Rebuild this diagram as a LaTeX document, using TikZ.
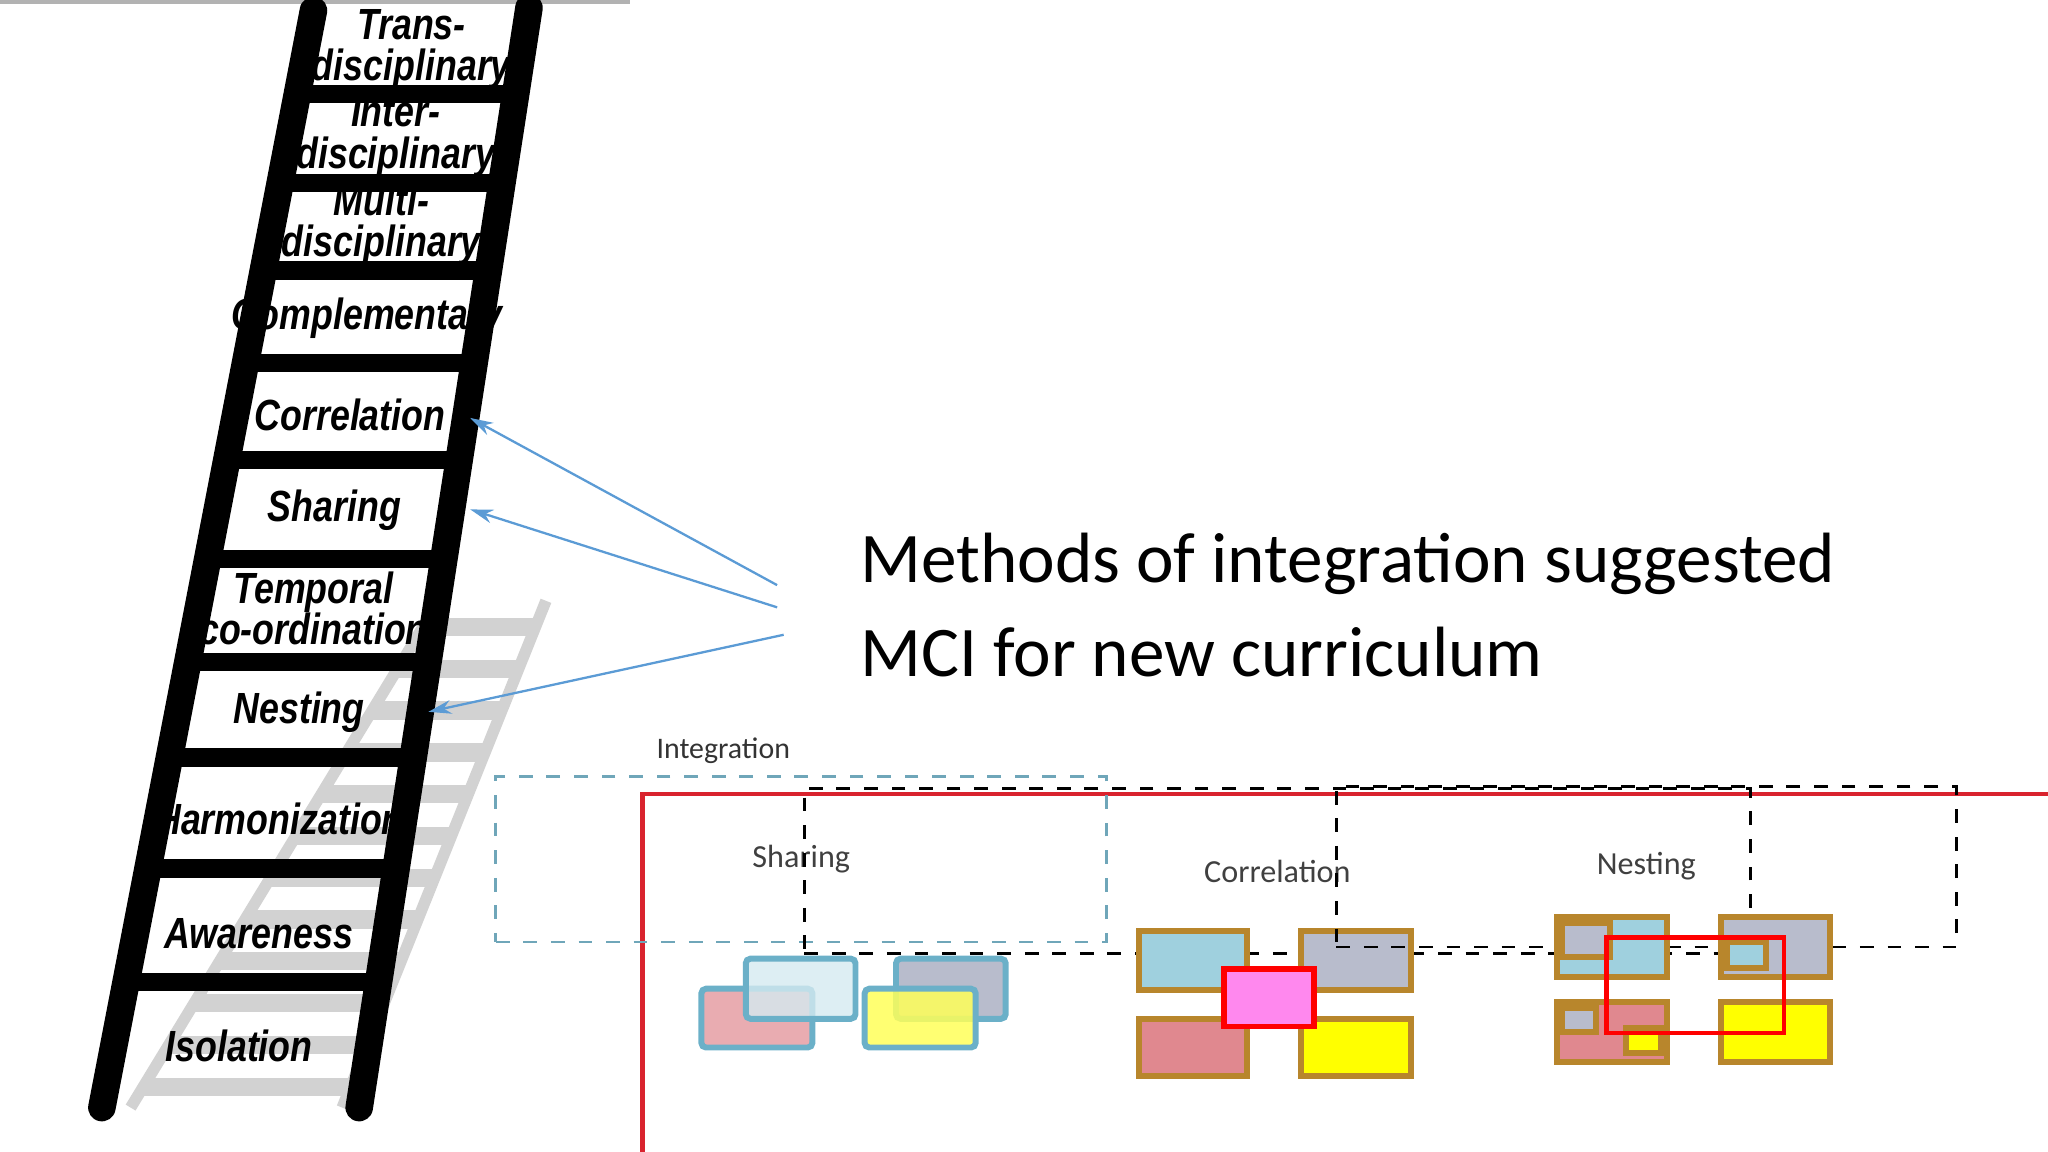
\documentclass[tikz,border=0pt]{standalone}
\usepackage{fontspec}
\setmainfont{Carlito}
\newfontfamily\ladfont{Liberation Sans}
\usetikzlibrary{arrows.meta}
\definecolor{arrblue}{HTML}{5B9BD5}
\definecolor{boxred}{HTML}{D9232E}
\definecolor{brd}{HTML}{B8862C}
\definecolor{shb}{HTML}{6BB0C8}
\definecolor{lb}{HTML}{9FD0DE}
\definecolor{gr}{HTML}{B8BCCC}
\definecolor{pk}{HTML}{E0888F}
\definecolor{yl}{HTML}{FFFF00}
\begin{document}
\begin{tikzpicture}[x=0.01cm,y=-0.01cm,
  rail/.style={line width=9\pgflinewidth*0+2.6pt,line cap=round},
  rung/.style={line width=2.8pt},
  lab/.style={font=\ladfont\bfseries\itshape\fontsize{9.5}{9}\selectfont,align=center,inner sep=0pt,xscale=0.82},
  arr/.style={arrblue,line width=0.5pt,-{Stealth[length=5pt,width=3pt]}},
  sq/.style={line width=1.3pt,draw=brd},
  ssq/.style={line width=1.3pt,draw=shb,rounded corners=1pt},
  dbox/.style={draw,dashed,line width=0.6pt,font=\fontsize{7}{8}\selectfont,inner sep=0pt,text=black!75}]
\useasboundingbox (0,0) rectangle (1568,882);
\draw[gray!60,line width=1pt] (0,1) -- (482,1);
% shadow ladder
\begin{scope}[draw=gray!35]
\draw[line width=2.5pt] (418,460) -- (262,848);
\draw[line width=2.5pt] (330,470) -- (100,848);
\foreach \y in {480,512,544,576,608,640,672,704,736,768,800,832}
  \draw[line width=4pt] ({330-0.6085*(\y-470)},\y) -- ({418-0.402*(\y-460)},\y);
\end{scope}
% main ladder
\draw[line width=6pt,line cap=round] (240,8) -- (78,848);
\draw[line width=6pt,line cap=round] (405,6) -- (275,848);
\foreach \y in {72,140,207,278,352,428,507,580,665,752}
  \draw[line width=4pt] ({240-0.19286*(\y-8)},\y) -- ({405-0.15439*(\y-6)},\y);
\node[lab] (l1) at (315,38) {Trans-\\disciplinary};
\node[lab] (l2) at (303,105) {Inter-\\disciplinary};
\node[lab] (l3) at (292,172) {Multi-\\disciplinary};
\node[lab] (l4) at (281,244) {Complementary};
\node[lab] (l5) at (268,318) {Correlation};
\node[lab] (l6) at (256,391) {Sharing};
\node[lab] (l7) at (240,466) {Temporal\\co-ordination};
\node[lab] (l8) at (229,545) {Nesting};
\node[lab] (l9) at (214,627) {Harmonization};
\node[lab] (l10) at (198,715) {Awareness};
\node[lab] (l11) at (183,801) {Isolation};
% arrows
\coordinate (s1) at (595,448); \coordinate (t1) at (360,320);
\coordinate (s2) at (595,465); \coordinate (t2) at (360,390);
\coordinate (s3) at (600,486); \coordinate (t3) at (328,545);
\draw[arr] (s1) -- (t1);
\draw[arr] (s2) -- (t2);
\draw[arr] (s3) -- (t3);
% title
\node[anchor=west,align=left,inner sep=0pt,font=\fontsize{15.5}{20.5}\selectfont] (title) at (658,463) {Methods of integration suggested\\MCI for new curriculum};
\node[anchor=west,inner sep=0pt,font=\fontsize{6.5}{8}\selectfont,text=black!80] (integ) at (502,575) {Integration};
\node[draw=boxred,line width=1pt,minimum width=1005,minimum height=271,anchor=north west,inner sep=0pt] (frame) at (490,606) {};
% sharing
\node[dbox,draw=shb!80!gray,minimum width=133,minimum height=36] (shl) at (613.5,658) {Sharing};
\draw[ssq,fill=pk!70!white] (537,757) rectangle (622,802);
\draw[ssq,fill=lb!45!white,fill opacity=0.8] (571,734) rectangle (655,780);
\draw[ssq,fill=gr] (686,734) rectangle (770,780);
\draw[ssq,fill=yl!65!white,fill opacity=0.85] (662,757) rectangle (747,802);
% correlation
\node[dbox,minimum width=206,minimum height=36] (col) at (978,667) {Correlation};
\draw[sq,fill=lb] (872,713) rectangle (955,758);
\draw[sq,fill=gr] (996,713) rectangle (1080,758);
\draw[sq,fill=pk] (872,780) rectangle (955,824);
\draw[sq,fill=yl] (996,780) rectangle (1080,824);
\draw[line width=1.2pt,draw=red,fill={rgb,255:red,255;green,136;blue,238}] (937,742) rectangle (1006,786);
% nesting
\node[dbox,minimum width=135,minimum height=35] (nel) at (1260.5,663.5) {Nesting};
\draw[sq,fill=lb] (1192,702) rectangle (1276,748);
\draw[sq,fill=gr] (1318,702) rectangle (1401,748);
\draw[sq,fill=pk] (1192,767) rectangle (1276,813);
\draw[sq,fill=yl] (1318,767) rectangle (1401,813);
\draw[sq,fill=gr] (1196,707) rectangle (1233,733);
\draw[sq,fill=lb] (1322,721) rectangle (1352,741);
\draw[sq,fill=gr] (1196,772) rectangle (1222,790);
\draw[sq,fill=yl] (1245,787) rectangle (1272,806);
\draw[red,line width=1pt] (1230,718) rectangle (1366,791);
\end{tikzpicture}
\end{document}
